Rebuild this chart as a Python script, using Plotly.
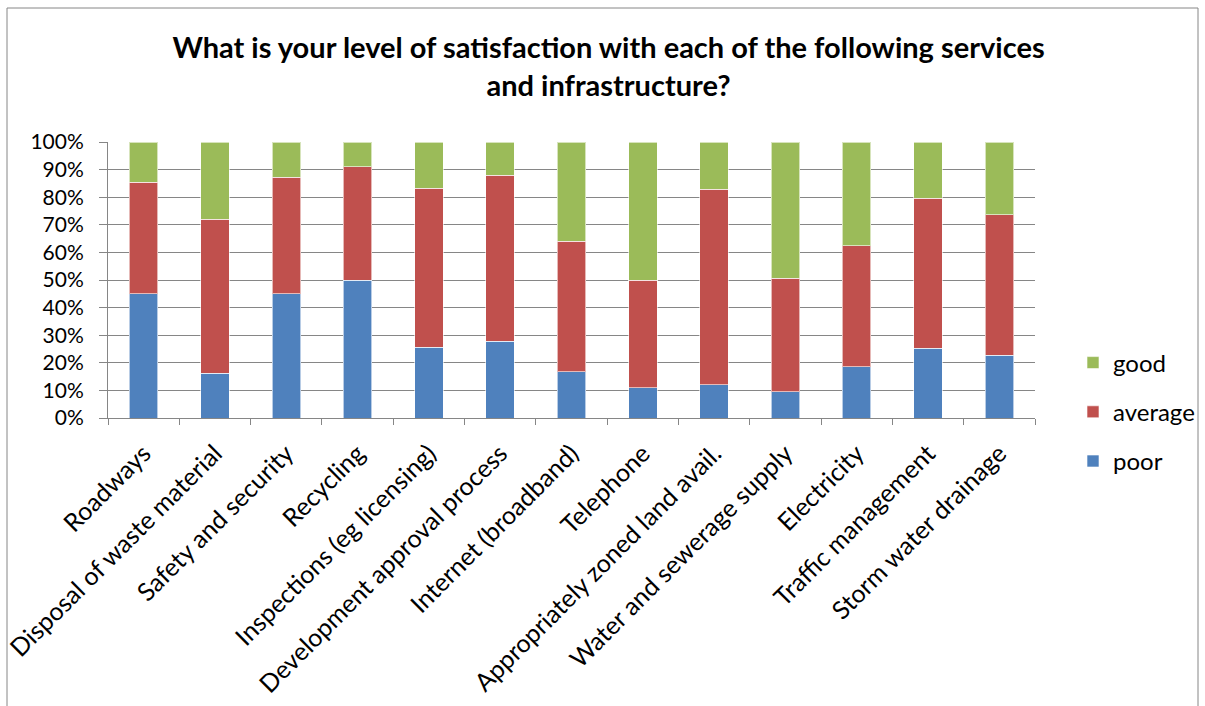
import plotly.graph_objects as go

categories = ["Roadways", "Disposal of waste material", "Safety and security", "Recycling",
              "Inspections (eg licensing)", "Development approval process", "Internet (broadband)",
              "Telephone", "Appropriately zoned land avail.", "Water and sewerage supply",
              "Electricity", "Traffic management", "Storm water drainage"]
poor = [45.1, 16.2, 45.1, 49.9, 25.7, 27.9, 16.8, 10.9, 12.0, 9.5, 18.5, 25.2, 22.8]
average = [40.4, 55.8, 42.1, 41.1, 57.5, 60.0, 47.2, 39.0, 70.8, 41.1, 44.0, 54.4, 50.9]
good = [14.5, 28.0, 12.8, 9.0, 16.8, 12.1, 36.0, 50.1, 17.2, 49.4, 37.5, 20.4, 26.3]
yticks = [0, 10, 20, 30, 40, 50, 60, 70, 80, 90, 100]
ytick_labels = [f"{v}%" for v in yticks]

FONT = "Lato"
fig = go.Figure()
for name, vals, col, rank in [("poor", poor, "#4F81BD", 3), ("average", average, "#C0504D", 2),
                              ("good", good, "#9BBB59", 1)]:
    fig.add_trace(go.Bar(x=categories, y=vals, name=name, legendgroup=name, legendrank=rank,
                         marker=dict(color=col, line=dict(color="rgba(255,255,255,0.6)", width=1))))

W, H = 1205, 706
L, R, T, B = 108, 1035, 142, 418
fig.update_layout(
    width=W, height=H,
    barmode="stack", bargap=0.6,
    margin=dict(l=L, r=W - R, t=T, b=H - B, autoexpand=False),
    paper_bgcolor="white", plot_bgcolor="white",
    font=dict(family=FONT, size=22, color="black"),
    title=dict(text="<b>What is your level of satisfaction with each of the following services<br>and infrastructure?</b>",
               x=0.505, xanchor="center", y=0.918, yanchor="middle",
               font=dict(family=FONT, size=29, color="black")),
    showlegend=True,
    legend=dict(x=(1073 - L) / (R - L), xanchor="left", y=(B - 412) / (B - T), yanchor="middle",
                traceorder="grouped", tracegroupgap=15, bgcolor="rgba(0,0,0,0)",
                font=dict(family=FONT, size=24), itemwidth=30),
    xaxis=dict(type="category", tickangle=-45, ticks="outside", tickson="boundaries", ticklen=6,
               tickcolor="#868686", showline=True, linecolor="#868686", linewidth=1,
               showgrid=False, ticklabelshift=0, ticklabelstandoff=10, automargin=False,
               tickfont=dict(family=FONT, size=25)),
    yaxis=dict(range=[0, 100], tickvals=yticks, ticktext=ytick_labels, ticks="outside", ticklen=8,
               tickcolor="#868686", showline=True, linecolor="#868686", showgrid=True,
               gridcolor="#868686", gridwidth=1, zeroline=False, ticklabelstandoff=11,
               automargin=False, tickfont=dict(family=FONT, size=21)),
)
# outer chart border
fig.add_shape(type="rect", xref="paper", yref="paper",
              x0=(7 - L) / (R - L), x1=(1198 - L) / (R - L),
              y0=(B - 720) / (B - T), y1=(B - 8) / (B - T),
              line=dict(color="#868686", width=1), fillcolor="rgba(0,0,0,0)", layer="below")
fig.write_html("out.html")
